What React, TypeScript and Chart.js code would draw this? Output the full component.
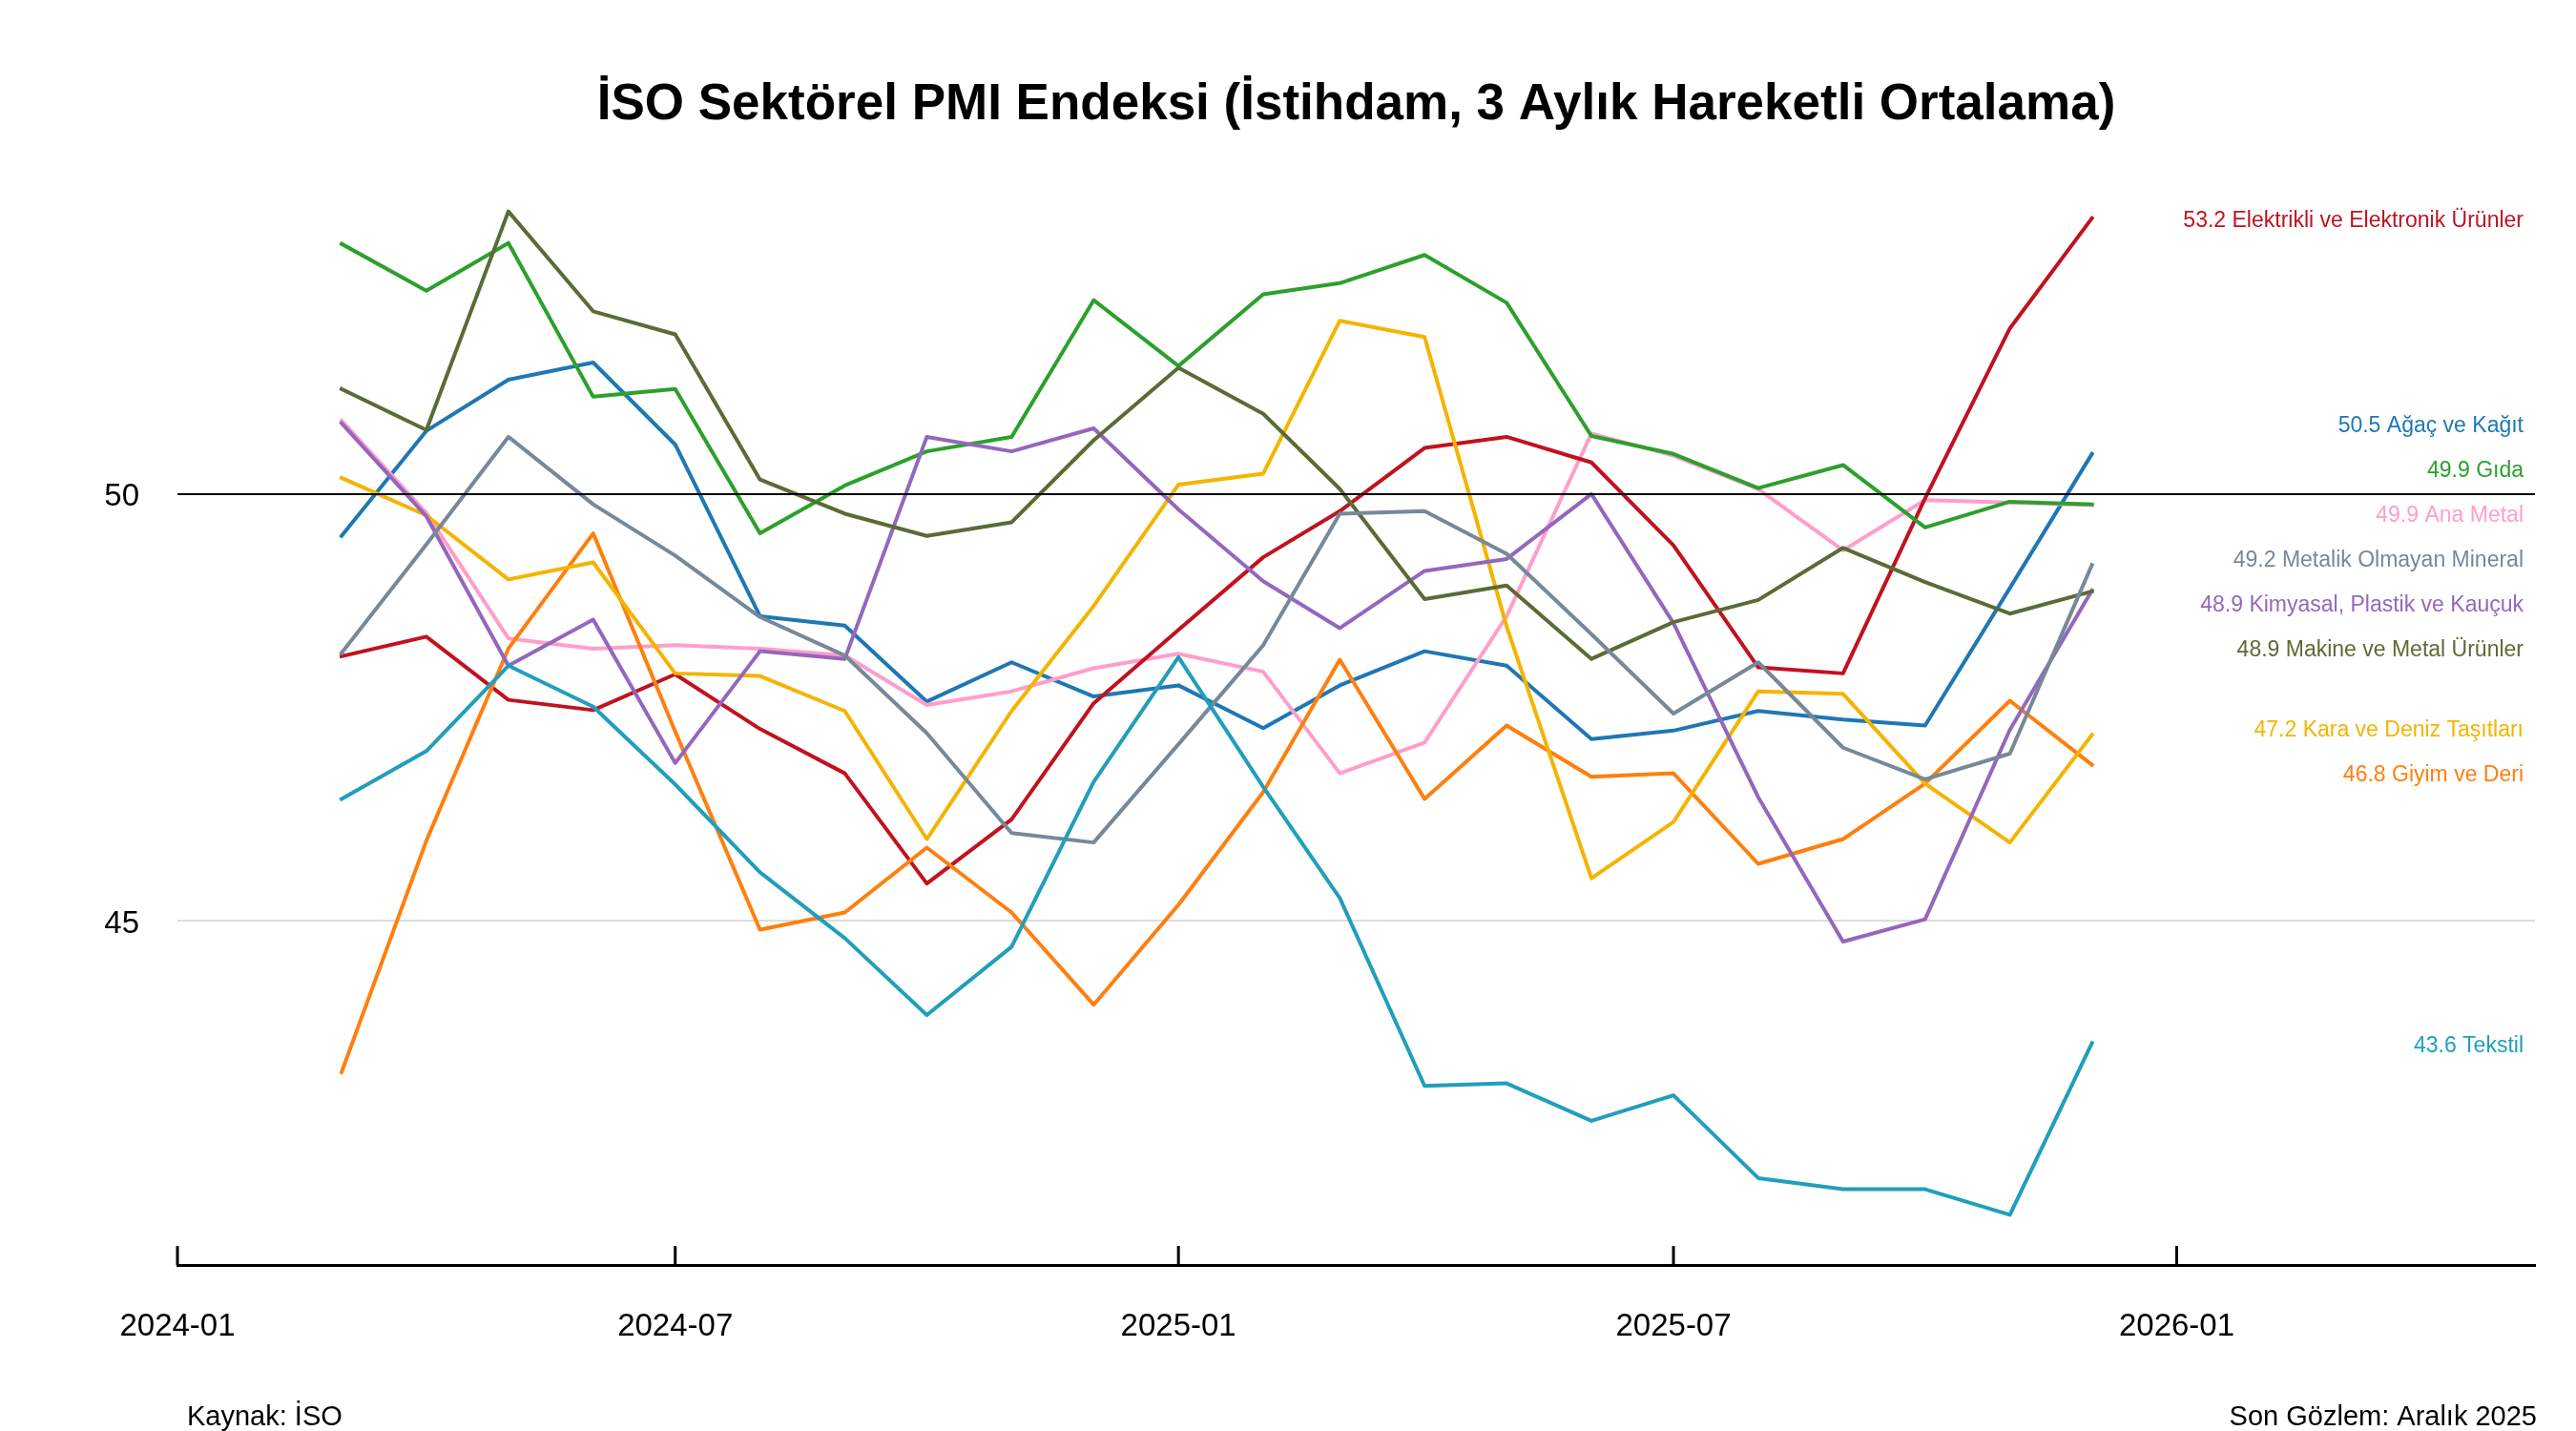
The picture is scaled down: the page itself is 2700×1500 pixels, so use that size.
import React, { useEffect, useRef } from "react";
import { Chart, registerables } from "chart.js";

Chart.register(...registerables);

const TITLE = "İSO Sektörel PMI Endeksi (İstihdam, 3 Aylık Hareketli Ortalama)";
const SOURCE_TEXT = "Kaynak: İSO";
const LAST_OBS_TEXT = "Son Gözlem: Aralık 2025";

const MONTHS = [
  "2024-03", "2024-04", "2024-05", "2024-06", "2024-07", "2024-08", "2024-09", "2024-10",
  "2024-11", "2024-12", "2025-01", "2025-02", "2025-03", "2025-04", "2025-05", "2025-06",
  "2025-07", "2025-08", "2025-09", "2025-10", "2025-11", "2025-12",
];

const X_TICKS = ["2024-01", "2024-07", "2025-01", "2025-07", "2026-01"];
const X_START = "2024-01-01";
const X_END = "2026-05-12";
const Y_TICKS = [45, 50];
const REF_LINE = 50;

const ELEKTRIKLI = [48.10, 48.33, 47.59, 47.47, 47.89, 47.25, 46.73, 45.44, 46.19, 47.55, 48.41, 49.26, 49.80, 50.54, 50.67, 50.37, 49.40, 47.97, 47.90, 49.95, 51.94, 53.23];
const AGAC = [49.51, 50.74, 51.34, 51.54, 50.58, 48.57, 48.46, 47.57, 48.03, 47.63, 47.76, 47.26, 47.76, 48.16, 47.99, 47.13, 47.23, 47.46, 47.36, 47.29, 48.90, 50.47];
const GIDA = [52.93, 52.38, 52.94, 51.14, 51.23, 49.54, 50.10, 50.50, 50.67, 52.27, 51.50, 52.34, 52.47, 52.80, 52.24, 50.68, 50.47, 50.07, 50.34, 49.61, 49.91, 49.88];
const ANA_METAL = [50.86, 49.78, 48.31, 48.19, 48.23, 48.19, 48.11, 47.53, 47.69, 47.96, 48.13, 47.92, 46.73, 47.09, 48.57, 50.71, 50.45, 50.06, 49.34, 49.93, 49.90, 49.87];
const METALIK = [48.14, 49.41, 50.67, 49.88, 49.28, 48.56, 48.11, 47.20, 46.03, 45.92, 47.07, 48.23, 49.77, 49.80, 49.30, 48.36, 47.43, 48.03, 47.03, 46.66, 46.96, 49.17];
const KIMYASAL = [50.83, 49.74, 47.99, 48.53, 46.85, 48.16, 48.07, 50.67, 50.50, 50.77, 49.82, 48.98, 48.43, 49.10, 49.24, 50.00, 48.49, 46.45, 44.76, 45.02, 47.24, 48.87];
const MAKINE = [51.23, 50.75, 53.31, 52.14, 51.87, 50.17, 49.77, 49.51, 49.67, 50.63, 51.48, 50.94, 50.06, 48.77, 48.93, 48.07, 48.50, 48.76, 49.37, 48.97, 48.60, 48.86];
const KARA = [50.19, 49.75, 49.00, 49.20, 47.90, 47.87, 47.46, 45.96, 47.46, 48.69, 50.11, 50.24, 52.03, 51.84, 48.45, 45.50, 46.16, 47.69, 47.66, 46.61, 45.92, 47.18];
const GIYIM = [43.23, 45.94, 48.19, 49.54, 47.22, 44.90, 45.10, 45.86, 45.10, 44.02, 45.19, 46.51, 48.06, 46.43, 47.29, 46.69, 46.73, 45.67, 45.96, 46.61, 47.58, 46.83];
const TEKSTIL = [46.43, 46.99, 47.99, 47.51, 46.60, 45.57, 44.80, 43.90, 44.70, 46.63, 48.09, 46.57, 45.27, 43.07, 43.10, 42.66, 42.96, 41.99, 41.86, 41.86, 41.56, 43.57];

const SERIES_NAMES = [
  "Elektrikli ve Elektronik Ürünler",
  "Ağaç ve Kağıt",
  "Gıda",
  "Ana Metal",
  "Metalik Olmayan Mineral",
  "Kimyasal, Plastik ve Kauçuk",
  "Makine ve Metal Ürünler",
  "Kara ve Deniz Taşıtları",
  "Giyim ve Deri",
  "Tekstil",
];
const SERIES_VALUES = [ELEKTRIKLI, AGAC, GIDA, ANA_METAL, METALIK, KIMYASAL, MAKINE, KARA, GIYIM, TEKSTIL];
const SERIES_COLORS = [
  "#c1121f",
  "#1f77b4",
  "#2ca02c",
  "#ff9ecb",
  "#778899",
  "#9467bd",
  "#5b6b35",
  "#f4b400",
  "#ff7f0e",
  "#219ebc",
];
// drawing layer (higher = drawn later / on top)
const SERIES_LAYER = [2, 0, 4, 1, 8, 6, 7, 5, 3, 9];

const FONT = "'Liberation Sans', Arial, sans-serif";

const dayOf = (s: string) => {
  const p = s.split("-").map(Number);
  return (Date.UTC(p[0], p[1] - 1, p[2] || 1) - Date.UTC(2024, 0, 1)) / 86400000;
};

const allVals = SERIES_VALUES.flat();
const dataMin = Math.min(...allVals);
const dataMax = Math.max(...allVals);
const Y_MIN = dataMin - 0.05 * (dataMax - dataMin);
const Y_MAX = dataMax + 0.05 * (dataMax - dataMin);

const overlayPlugin = {
  id: "overlay",
  afterDatasetsDraw(chart: any) {
    const { ctx, chartArea, scales } = chart;
    const xs = scales.x;
    const ys = scales.y;
    ctx.save();
    // reference line at 50
    const y50 = ys.getPixelForValue(REF_LINE);
    ctx.strokeStyle = "#000";
    ctx.lineWidth = 2;
    ctx.beginPath();
    ctx.moveTo(chartArea.left, y50);
    ctx.lineTo(chartArea.right, y50);
    ctx.stroke();

    // inward tick marks on x axis
    ctx.lineWidth = 3;
    X_TICKS.forEach((t) => {
      const px = xs.getPixelForValue(dayOf(t));
      ctx.beginPath();
      ctx.moveTo(px, chartArea.bottom);
      ctx.lineTo(px, chartArea.bottom - 20);
      ctx.stroke();
    });

    // end labels with collision avoidance (clusters centred on their mean)
    const GAP = 47;
    const items = SERIES_NAMES.map((name, k) => {
      const vals = SERIES_VALUES[k];
      const last = vals[vals.length - 1];
      return { text: `${last.toFixed(1)} ${name}`, color: SERIES_COLORS[k], target: ys.getPixelForValue(last) };
    }).sort((a, b) => a.target - b.target);
    let clusters: any[] = items.map((it) => ({ members: [it], center: it.target }));
    let changed = true;
    while (changed) {
      changed = false;
      for (let i = 0; i < clusters.length - 1; i++) {
        const a = clusters[i];
        const b = clusters[i + 1];
        const aBottom = a.center + ((a.members.length - 1) * GAP) / 2;
        const bTop = b.center - ((b.members.length - 1) * GAP) / 2;
        if (bTop - aBottom < GAP) {
          const members = [...a.members, ...b.members];
          const mean = members.reduce((s: number, m: any) => s + m.target, 0) / members.length;
          clusters.splice(i, 2, { members, center: mean });
          changed = true;
          break;
        }
      }
    }
    ctx.font = `23px ${FONT}`;
    ctx.textAlign = "right";
    ctx.textBaseline = "middle";
    clusters.forEach((c) => {
      const n = c.members.length;
      c.members.forEach((m: any, k: number) => {
        const y = c.center + (k - (n - 1) / 2) * GAP + 3;
        ctx.fillStyle = m.color;
        ctx.fillText(m.text, chartArea.right - 12, y);
      });
    });

    // title
    ctx.fillStyle = "#000";
    ctx.font = `bold 53px ${FONT}`;
    ctx.textAlign = "center";
    ctx.fillText(TITLE, (chartArea.left + chartArea.right) / 2, 110);

    // footers
    ctx.font = `29px ${FONT}`;
    ctx.textAlign = "left";
    ctx.fillText(SOURCE_TEXT, 196, 1486);
    ctx.textAlign = "right";
    ctx.fillText(LAST_OBS_TEXT, chartArea.right + 2, 1486);
    ctx.restore();
  },
};

export default function App() {
  const ref = useRef<HTMLCanvasElement | null>(null);
  useEffect(() => {
    if (!ref.current) return;
    const datasets = SERIES_NAMES.map((name, k) => ({
      label: name,
      data: SERIES_VALUES[k].map((v, i) => ({ x: dayOf(MONTHS[i]), y: v })),
      borderColor: SERIES_COLORS[k],
      backgroundColor: SERIES_COLORS[k],
      borderWidth: 4,
      pointRadius: 0,
      pointHoverRadius: 0,
      tension: 0,
      fill: false,
      borderJoinStyle: "round" as const,
      borderCapStyle: "square" as const,
      order: -SERIES_LAYER[k],
    }));
    const chart = new Chart(ref.current, {
      type: "line",
      data: { datasets },
      options: {
        responsive: false,
        animation: false,
        devicePixelRatio: 1,
        layout: { padding: { top: 169, right: 43, bottom: 0, left: 0 } },
        plugins: { legend: { display: false }, tooltip: { enabled: false }, title: { display: false } },
        scales: {
          x: {
            type: "linear",
            min: dayOf(X_START),
            max: dayOf(X_END),
            afterBuildTicks: (sc: any) => {
              sc.ticks = X_TICKS.map((t) => ({ value: dayOf(t) }));
            },
            afterFit: (sc: any) => {
              sc.height = 174;
            },
            ticks: {
              autoSkip: false,
              maxRotation: 0,
              minRotation: 0,
              padding: 45,
              color: "#000",
              font: { family: FONT, size: 33 },
              callback: (v: any) => X_TICKS.find((t) => dayOf(t) === v) ?? "",
            },
            grid: { display: false, drawTicks: false },
            border: { display: true, color: "#000", width: 3 },
          },
          y: {
            type: "linear",
            min: Y_MIN,
            max: Y_MAX,
            afterBuildTicks: (sc: any) => {
              sc.ticks = Y_TICKS.map((v) => ({ value: v }));
            },
            afterFit: (sc: any) => {
              sc.width = 186;
            },
            ticks: {
              padding: 40,
              labelOffset: 3,
              color: "#000",
              font: { family: FONT, size: 33 },
              callback: (v: any) => String(v),
            },
            grid: {
              drawTicks: false,
              color: (c: any) => (c.tick && c.tick.value === REF_LINE ? "rgba(0,0,0,0)" : "#dddddd"),
              lineWidth: 2,
            },
            border: { display: false },
          },
        },
      },
      plugins: [overlayPlugin],
    });
    return () => chart.destroy();
  }, []);
  return (
    <div style={{ position: "fixed", left: 0, top: 0, width: 2700, height: 1500, background: "#fff" }}>
      <canvas ref={ref} width={2700} height={1500} style={{ display: "block", width: 2700, height: 1500 }} />
    </div>
  );
}
